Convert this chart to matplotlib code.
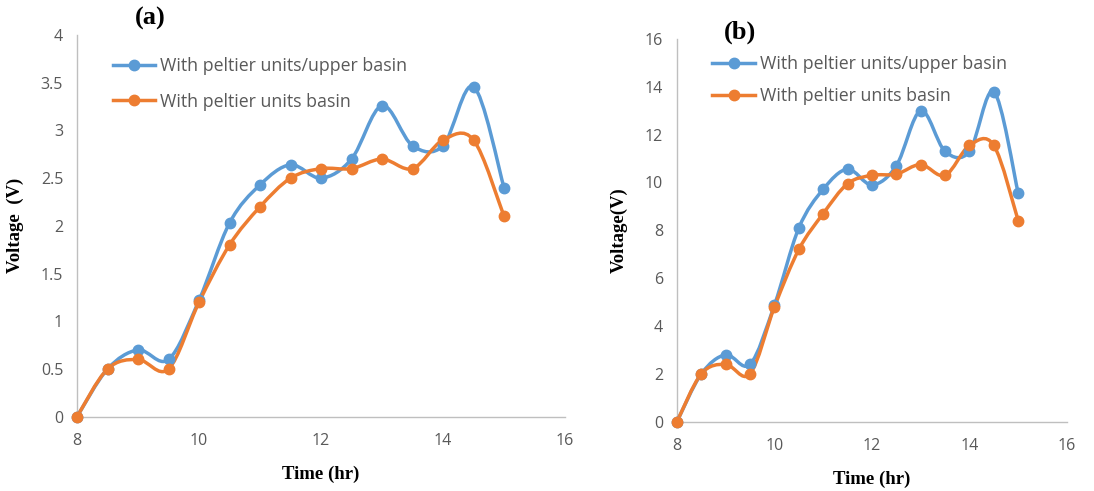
import matplotlib.pyplot as plt
import numpy as np
from matplotlib.path import Path
from matplotlib.patches import PathPatch
from matplotlib.lines import Line2D

# data
time_hr = [8, 8.5, 9, 9.5, 10, 10.5, 11, 11.5, 12, 12.5, 13, 13.5, 14, 14.5, 15]

a_upper = [0, 0.5, 0.7, 0.6, 1.22, 2.03, 2.43, 2.64, 2.5, 2.7, 3.26, 2.84, 2.84, 3.46, 2.4]
a_basin = [0, 0.5, 0.6, 0.5, 1.2, 1.8, 2.2, 2.5, 2.6, 2.6, 2.7, 2.6, 2.9, 2.9, 2.1]

b_upper = [0, 2, 2.8, 2.4, 4.88, 8.1, 9.72, 10.56, 9.9, 10.7, 13.0, 11.3, 11.3, 13.8, 9.55]
b_basin = [0, 2, 2.4, 2.0, 4.8, 7.2, 8.7, 9.95, 10.3, 10.35, 10.75, 10.3, 11.55, 11.55, 8.4]

legend_labels = ["With peltier units/upper basin", "With peltier units basin"]

BLUE = "#5B9BD5"
ORANGE = "#ED7D31"
GRAY_TXT = "#595959"
AXIS_GRAY = "#BFBFBF"
TICK_FONT = "Open Sans"
SERIF = "Liberation Serif"


def smooth_path(x, y):
    # excel style smoothed line, drawn as cubic bezier segments
    pts = np.column_stack([x, y]).astype(float)
    n = len(pts)
    verts = [pts[0]]
    codes = [Path.MOVETO]
    for i in range(n - 1):
        p0 = pts[i - 1] if i > 0 else pts[i]
        p1 = pts[i]
        p2 = pts[i + 1]
        p3 = pts[i + 2] if i + 2 < n else pts[i + 1]
        c1 = p1 + (p2 - p0) / 6.0
        c2 = p2 - (p3 - p1) / 6.0
        verts += [c1, c2, p2]
        codes += [Path.CURVE4] * 3
    return Path(verts, codes)


def draw_panel(ax, upper, basin, ymax, ystep):
    for vals, col in [(upper, BLUE), (basin, ORANGE)]:
        patch = PathPatch(smooth_path(time_hr, vals), facecolor="none",
                          edgecolor=col, lw=2.5, capstyle="round", joinstyle="round", zorder=3)
        ax.add_patch(patch)
        ax.plot(time_hr, vals, ls="none", marker="o", ms=7.5, color=col, zorder=4, clip_on=False)
    ax.set_xlim(8, 16)
    ax.set_ylim(0, ymax)
    ax.set_xticks([8, 10, 12, 14, 16])
    ax.set_yticks(np.arange(0, ymax + ystep / 2, ystep))
    ax.yaxis.set_major_formatter(plt.FuncFormatter(lambda v, p: f"{v:g}"))
    for s in ["top", "right"]:
        ax.spines[s].set_visible(False)
    for s in ["left", "bottom"]:
        ax.spines[s].set_color(AXIS_GRAY)
        ax.spines[s].set_linewidth(1.0)
    ax.tick_params(length=0, labelsize=11.5, labelcolor=GRAY_TXT)
    ax.tick_params(axis="x", pad=12)
    ax.tick_params(axis="y", pad=10)
    for lab in ax.get_xticklabels() + ax.get_yticklabels():
        lab.set_fontfamily(TICK_FONT)
    handles = [Line2D([], [], color=BLUE, lw=2.5, marker="o", ms=7.5),
               Line2D([], [], color=ORANGE, lw=2.5, marker="o", ms=7.5)]
    return handles


fig = plt.figure(figsize=(10.94, 4.91), dpi=100)

ax1 = fig.add_axes([0.0704, 0.1513, 0.4461, 0.7774])
h = draw_panel(ax1, a_upper, a_basin, 4, 0.5)
leg = ax1.legend(h, legend_labels, loc="upper left", bbox_to_anchor=(0.04, 0.985),
                 frameon=False, handlelength=2.4, handletextpad=0.25, labelspacing=1.0,
                 prop={"family": TICK_FONT, "size": 12.8})
for t in leg.get_texts():
    t.set_color(GRAY_TXT)
ax1.set_xlabel("Time (hr)", fontfamily=SERIF, fontweight="bold", fontsize=13.5, labelpad=12)
ax1.set_ylabel("Voltage  (V)", fontfamily=SERIF, fontweight="bold", fontsize=13.5, labelpad=12)
fig.text(0.137, 0.962, "(a)", fontfamily=SERIF, fontweight="bold", fontsize=19, ha="center", va="center")

ax2 = fig.add_axes([0.6188, 0.1412, 0.3565, 0.7794])
h = draw_panel(ax2, b_upper, b_basin, 16, 2)
leg = ax2.legend(h, legend_labels, loc="upper left", bbox_to_anchor=(0.05, 1.0),
                 frameon=False, handlelength=2.4, handletextpad=0.25, labelspacing=0.8,
                 prop={"family": TICK_FONT, "size": 12.8})
for t in leg.get_texts():
    t.set_color(GRAY_TXT)
ax2.set_xlabel("Time (hr)", fontfamily=SERIF, fontweight="bold", fontsize=13.5, labelpad=12)
ax2.set_ylabel("Voltage(V)", fontfamily=SERIF, fontweight="bold", fontsize=13.5, labelpad=12)
fig.text(0.676, 0.935, "(b)", fontfamily=SERIF, fontweight="bold", fontsize=19, ha="center", va="center")

fig.savefig("out.png", dpi=100)
